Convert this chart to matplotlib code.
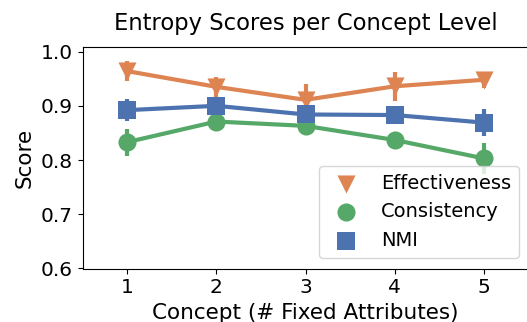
import matplotlib
matplotlib.use("Agg")
import matplotlib.pyplot as plt

concepts = [1, 2, 3, 4, 5]
series_names = ["Effectiveness", "Consistency", "NMI"]
effectiveness = [0.964, 0.935, 0.911, 0.936, 0.948]
effectiveness_err = [0.018, 0.019, 0.030, 0.027, 0.015]
consistency = [0.833, 0.871, 0.863, 0.837, 0.803]
consistency_err = [0.025, 0.005, 0.007, 0.008, 0.028]
nmi = [0.892, 0.900, 0.884, 0.883, 0.869]
nmi_err = [0.020, 0.016, 0.015, 0.013, 0.025]

colors = ["#DD8452", "#55A868", "#4C72B0"]
markers = ["v", "o", "s"]

fig = plt.figure(figsize=(5.27, 3.22), dpi=100)
ax = fig.add_axes([82.5 / 527, 1 - 268.5 / 322, 446 / 527, (268.5 - 46.7) / 322])

xs = list(range(len(concepts)))
handles = []
for name, vals, errs, c, m in zip(series_names,
                                  [effectiveness, consistency, nmi],
                                  [effectiveness_err, consistency_err, nmi_err],
                                  colors, markers):
    ax.errorbar(xs, vals, yerr=errs, color=c, lw=3, elinewidth=3, capsize=0)
    h = ax.scatter(xs, vals, marker=m, s=170, color=c, zorder=3, label=name,
                   linewidths=0)
    handles.append(h)

ax.set_xticks(xs)
ax.set_xticklabels([str(c) for c in concepts])
ax.set_xlim(-0.5, len(concepts) - 0.5)
ax.set_ylim(0.6, 1.009)
ax.set_yticks([0.6, 0.7, 0.8, 0.9, 1.0])
ax.tick_params(labelsize=14.5)
ax.set_xlabel("Concept (# Fixed Attributes)", fontsize=15.5)
ax.set_ylabel("Score", fontsize=15.5)
ax.set_title("Entropy Scores per Concept Level", fontsize=16.3, pad=12)

ax.legend(handles=handles, loc="lower right", fontsize=14,
          bbox_to_anchor=(1.0, 0.004), handletextpad=0.8, borderpad=0.4)

fig.savefig("out.png", dpi=100)
